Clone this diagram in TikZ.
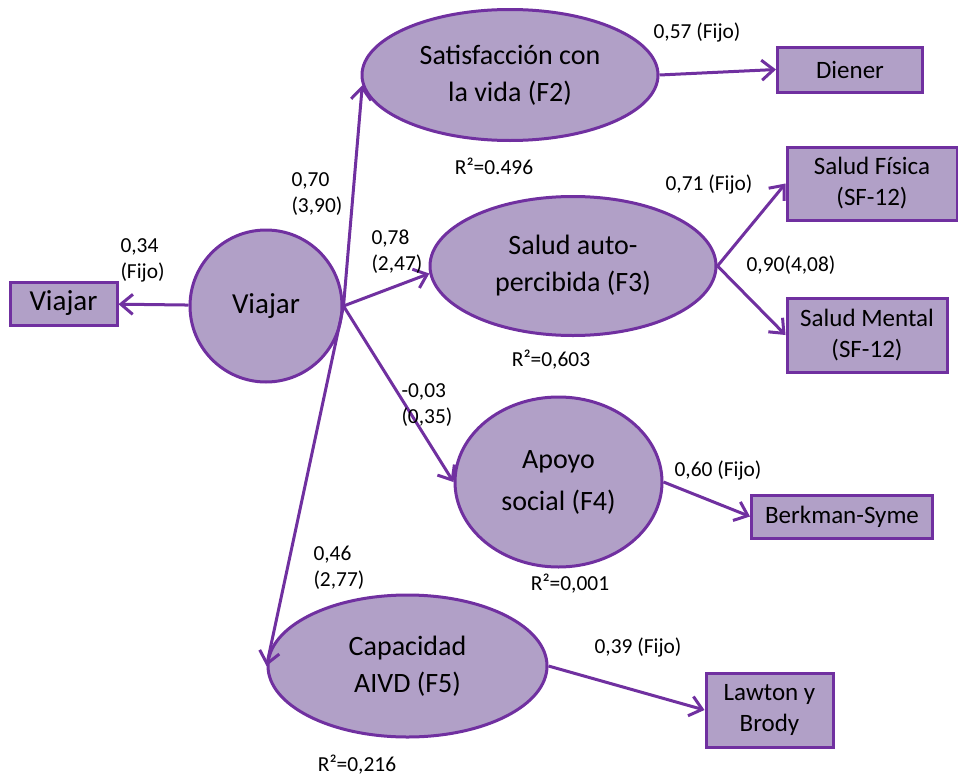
\documentclass[tikz,border=0pt]{standalone}
\usepackage{fontspec}
\setmainfont{Carlito}
\usepackage{xcolor}
\usetikzlibrary{arrows.meta,positioning,shapes.geometric}
\definecolor{lila}{HTML}{B1A0C7}
\definecolor{morado}{HTML}{7030A0}

\begin{document}
\begin{tikzpicture}[x=0.5pt, y=-0.5pt, line width=1.5pt,
  >={Straight Barb[length=6pt,width=10pt]},
  lat/.style={draw=morado, fill=lila, ellipse, inner sep=0pt, align=center, font=\fontsize{14}{18.5}\selectfont},
  obs/.style={draw=morado, fill=lila, rectangle, inner sep=0pt, align=center, font=\fontsize{12.5}{15.5}\selectfont},
  lbl/.style={inner sep=0pt, align=left, font=\fontsize{10.7}{13}\selectfont},
  link/.style={->, draw=morado}]
  \useasboundingbox (0,0) rectangle (958,776);
  % latent factors and indicators
  \node[obs, minimum width=53.5pt, minimum height=21.5pt, font=\fontsize{14.5}{17}\selectfont](viajarobs) at (63.5,303.5){Viajar};
  \node[lat, minimum width=76pt, minimum height=76pt, font=\fontsize{14.5}{18}\selectfont](viajar) at (266,306){Viajar};
  \node[lat, minimum width=148pt, minimum height=65.5pt](f2) at (510,75){Satisfacción con\\la vida (F2)};
  \node[obs, minimum width=72.5pt, minimum height=22.5pt](diener) at (850,69.5){Diener};
  \node[lat, minimum width=143pt, minimum height=69.5pt](f3) at (573,266){Salud auto-\\percibida (F3)};
  \node[obs, minimum width=85pt, minimum height=36.5pt](fisica) at (872,183.5){Salud Física\\(SF-12)};
  \node[obs, minimum width=80pt, minimum height=37pt](mental) at (867,335){Salud Mental\\(SF-12)};
  \node[lat, minimum width=103.5pt, minimum height=85pt, font=\fontsize{14}{21}\selectfont](f4) at (558.5,482){Apoyo\\social (F4)};
  \node[obs, minimum width=90.5pt, minimum height=21.5pt](berkman) at (842,516.5){Berkman-Syme};
  \node[lat, minimum width=139.5pt, minimum height=71pt](f5) at (407.5,666){Capacidad\\AIVD (F5)};
  \node[obs, minimum width=63.5pt, minimum height=37pt](lawton) at (769.5,710){Lawton y\\Brody};
  % paths
  \draw[link](viajar)--(viajarobs);
  \draw[link](viajar.east)--(f2.184); \draw[link](viajar.east)--(f3.183);
  \draw[link](viajar.east)--(f4.west); \draw[link](viajar.east)--(f5.west);
  \draw[link](f2.east)--(diener.west);
  \draw[link](f3.east)--(fisica.west); \draw[link](f3.east)--(mental.west);
  \draw[link](f4.east)--(berkman.west);
  \draw[link](f5.east)--(lawton.west);
  % loadings and R2
  \node[lbl, anchor=west](l34) at (119,260){0,34\\(Fijo)};
  \node[lbl, anchor=west](l70) at (290,194){0,70\\(3,90)};
  \node[lbl, anchor=west](l78) at (370,252){0,78\\(2,47)};
  \node[lbl, anchor=west](l03) at (400,405){-0,03\\(0,35)};
  \node[lbl, anchor=west](l46) at (312,568){0,46\\(2,77)};
  \node[lbl](l57) at (697,33){0,57 (Fijo)};
  \node[lbl](r2) at (494,166){R²=0.496};
  \node[lbl](l71) at (709,185){0,71 (Fijo)};
  \node[lbl](l90) at (791,265){0,90(4,08)};
  \node[lbl](r3) at (551,360){R²=0,603};
  \node[lbl](l60) at (718,471){0,60 (Fijo)};
  \node[lbl](r4) at (570,584){R²=0,001};
  \node[lbl](l39) at (638,647){0,39 (Fijo)};
  \node[lbl](r5) at (357,765){R²=0,216};
\end{tikzpicture}
\end{document}
